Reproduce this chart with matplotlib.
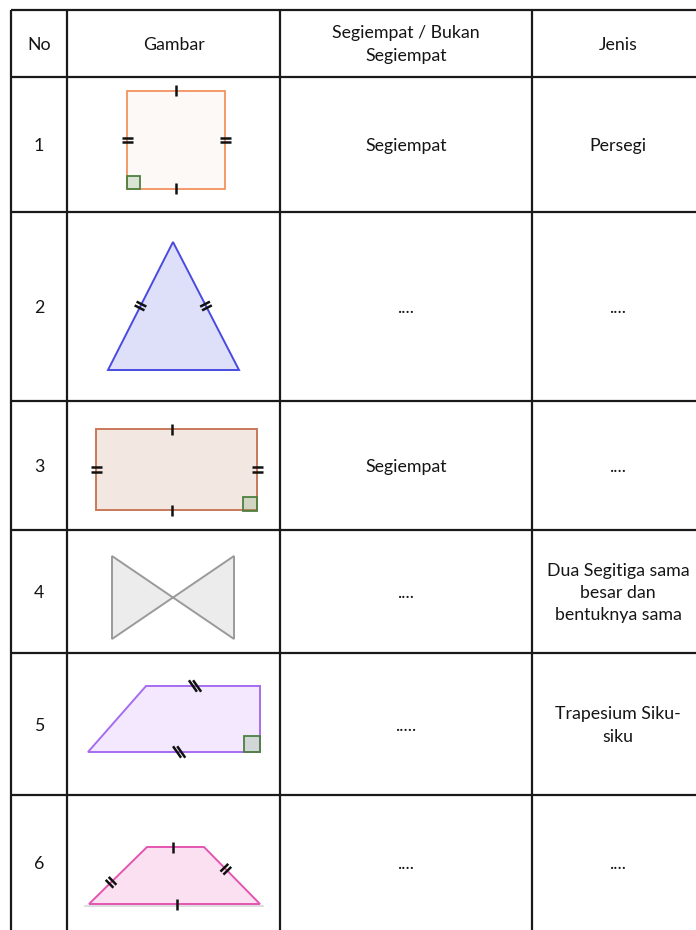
import numpy as np
import matplotlib.pyplot as plt
from matplotlib.patches import Polygon, Rectangle

# table text
headers = ["No", "Gambar", "Segiempat / Bukan\nSegiempat", "Jenis"]
row_no = ["1", "2", "3", "4", "5", "6"]
status = ["Segiempat", "....", "Segiempat", "....", ".....", "...."]
jenis = ["Persegi", "....", "....",
         "Dua Segitiga sama\nbesar dan\nbentuknya sama",
         "Trapesium Siku-\nsiku", "...."]

# grid (pixel positions)
col_x = [11, 67, 280, 532, 696]
row_y = [10, 77, 212, 401, 530, 653, 795, 930]

# shape vertices (pixel coords of the drawing)
square = [(127, 91), (225, 91), (225, 189), (127, 189)]
triangle = [(173, 242), (239, 370), (108, 370)]
rectangle = [(96, 429), (257, 429), (257, 510), (96, 510)]
bowtie = [(112, 556), (234, 639), (234, 556), (112, 639)]
trap_right = [(146, 686), (260, 686), (260, 752), (88, 752)]
trap_iso = [(147, 847), (204, 847), (260, 904), (89, 904)]

# (edge index, position along edge, number of marks, tilt)
square_ticks = [(0, 0.5, 1, 0), (2, 0.5, 1, 0), (1, 0.5, 2, 0), (3, 0.5, 2, 0)]
triangle_ticks = [(0, 0.5, 2, 0), (2, 0.5, 2, 0)]
rect_ticks = [(0, 0.47, 1, 0), (2, 0.53, 1, 0), (1, 0.5, 2, 0), (3, 0.5, 2, 0)]
trap_right_ticks = [(0, 0.43, 2, -35), (2, 0.47, 2, -35)]
trap_iso_ticks = [(0, 0.46, 1, 0), (2, 0.485, 1, 0), (3, 0.38, 2, 0), (1, 0.39, 2, 0)]

plt.rcParams['font.family'] = ['Lato', 'DejaVu Sans']

fig = plt.figure(figsize=(6.96, 9.30), dpi=100)
ax = fig.add_axes([0, 0, 1, 1])
ax.set_xlim(0, 696)
ax.set_ylim(930, 0)
ax.axis('off')

LINE = '#1a1a1a'
for x in col_x[:-1]:
    ax.plot([x, x], [row_y[0], row_y[-1]], color=LINE, lw=1.6, solid_capstyle='butt')
for y in row_y[:-1]:
    ax.plot([col_x[0], col_x[-1]], [y, y], color=LINE, lw=1.6, solid_capstyle='butt')

FS = 12.8
TXT = '#151515'
cx = [(col_x[i] + col_x[i + 1]) / 2 for i in range(4)]
cx[3] = 618
for i, h in enumerate(headers):
    ax.text(cx[i], (row_y[0] + row_y[1]) / 2 + 1, h, ha='center', va='center',
            fontsize=FS, color=TXT, linespacing=1.48)

for r in range(6):
    yc = (row_y[r + 1] + row_y[r + 2]) / 2 + 1.5
    ax.text(39, yc, row_no[r], ha='center', va='center', fontsize=FS, color=TXT)
    ax.text(cx[2], yc, status[r], ha='center', va='center', fontsize=FS, color=TXT)
    ax.text(cx[3], yc, jenis[r], ha='center', va='center', fontsize=FS, color=TXT,
            linespacing=1.48)


def draw_ticks(pts, specs, half=5.5):
    for idx, frac, n, tilt in specs:
        p0 = np.array(pts[idx], float)
        p1 = np.array(pts[(idx + 1) % len(pts)], float)
        d = (p1 - p0) / np.linalg.norm(p1 - p0)
        m = p0 + frac * (p1 - p0)
        a = np.deg2rad(tilt)
        perp = np.array([-d[1], d[0]])
        perp = np.array([perp[0] * np.cos(a) - perp[1] * np.sin(a),
                         perp[0] * np.sin(a) + perp[1] * np.cos(a)])
        for k in range(n):
            off = (k - (n - 1) / 2) * 4.2
            c = m + d * off
            ax.plot([c[0] - perp[0] * half, c[0] + perp[0] * half],
                    [c[1] - perp[1] * half, c[1] + perp[1] * half],
                    color='#111111', lw=1.8, solid_capstyle='butt', zorder=5)


def shape(pts, edge, face):
    ax.add_patch(Polygon(pts, closed=True, facecolor=face, edgecolor=edge, lw=1.4,
                         joinstyle='miter', zorder=3))


def right_angle(x, y, s):
    ax.add_patch(Rectangle((x, y), s, s, facecolor=(0.35, 0.6, 0.3, 0.22),
                           edgecolor='#4d8040', lw=1.3, zorder=4))


shape(square, '#f39a6a', '#fcf9f7')
right_angle(127, 176, 13)
draw_ticks(square, square_ticks)

shape(triangle, '#4a4ae0', '#dedff8')
draw_ticks(triangle, triangle_ticks)

shape(rectangle, '#c9795a', '#f3e7e2')
right_angle(243, 497, 14)
draw_ticks(rectangle, rect_ticks)

shape(bowtie, '#9a9a9a', '#ececec')

shape(trap_right, '#a66cf0', '#f3e8fd')
right_angle(244, 736, 16)
draw_ticks(trap_right, trap_right_ticks, half=7)

ax.plot([85, 263], [906, 906], color='#d8d8d8', lw=1.2, zorder=2)
shape(trap_iso, '#e455b0', '#fbe0f2')
draw_ticks(trap_iso, trap_iso_ticks)

fig.savefig('out.png', dpi=100, facecolor='white')
